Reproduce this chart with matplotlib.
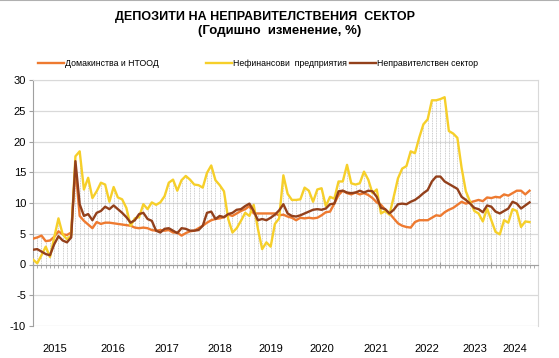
import numpy as np
import matplotlib
matplotlib.use('Agg')
import matplotlib.pyplot as plt

plt.rcParams['font.family'] = ['Liberation Sans', 'DejaVu Sans']
plt.rcParams['axes.unicode_minus'] = False

# Годишно изменение, %, месечни данни от януари 2015
households = [4.2, 4.4, 4.7, 3.8, 3.9, 4.5, 5.4, 4.9, 4.8, 5.2,
              15.8, 7.9, 7.1, 6.5, 5.9, 6.9, 6.6, 6.8, 6.8, 6.7,
              6.6, 6.5, 6.4, 6.3, 6.0, 5.9, 6.0, 5.9, 5.6, 5.5,
              5.6, 5.5, 5.6, 5.2, 5.2, 4.7, 5.1, 5.4, 5.5, 5.9,
              6.3, 6.8, 7.2, 7.4, 7.5, 7.7, 8.1, 7.9, 8.3, 8.7,
              9.0, 9.5, 8.3, 8.3, 8.3, 8.3, 8.3, 8.3, 8.0, 8.1,
              7.8, 7.6, 7.2, 7.6, 7.5, 7.6, 7.5, 7.6, 8.0, 8.5,
              8.6, 9.9, 11.3, 12.0, 11.6, 11.4, 11.7, 11.4, 11.6, 11.3,
              10.8, 10.1, 9.7, 8.9, 8.3, 7.5, 6.7, 6.3, 6.1, 6.0,
              6.9, 7.2, 7.2, 7.2, 7.6, 8.0, 7.9, 8.5, 8.9, 9.2,
              9.7, 10.2, 9.9, 10.1, 10.3, 10.5, 10.3, 10.9, 10.8, 11.0,
              10.9, 11.4, 11.2, 11.6, 12.0, 12.0, 11.4, 12.0]

nonfinancial = [0.8, 0.2, 1.5, 2.9, 1.2, 4.4, 7.5, 4.9, 4.1, 4.7,
                17.6, 18.4, 12.2, 14.1, 10.8, 11.9, 13.3, 13.0, 10.2, 12.6,
                10.9, 10.6, 9.2, 6.3, 7.5, 7.7, 9.8, 9.0, 10.1, 9.7,
                10.1, 11.1, 13.3, 13.8, 12.0, 13.7, 14.4, 13.8, 13.0, 12.9,
                12.5, 14.9, 16.1, 13.7, 12.9, 11.9, 7.4, 5.2, 5.9, 7.1,
                8.4, 7.9, 9.7, 5.8, 2.5, 3.6, 2.9, 6.6, 7.5, 14.5,
                11.5, 10.5, 10.5, 10.6, 12.5, 12.0, 10.2, 12.2, 12.4, 9.5,
                11.0, 10.7, 13.5, 13.5, 16.2, 13.2, 13.0, 13.2, 15.1, 13.8,
                11.6, 12.2, 8.3, 8.7, 8.1, 11.0, 14.0, 15.6, 16.0, 18.4,
                18.1, 20.6, 22.8, 23.6, 26.7, 26.7, 26.9, 27.2, 21.7, 21.3,
                20.6, 15.7, 11.9, 10.2, 8.7, 8.3, 7.0, 9.1, 7.2, 5.3,
                4.9, 7.2, 6.8, 9.0, 8.7, 6.1, 7.0, 6.9]

nongov = [2.4, 2.5, 2.1, 1.7, 1.5, 3.3, 4.6, 3.9, 3.6, 4.4,
          16.8, 9.8, 7.9, 8.2, 7.2, 8.4, 8.7, 9.4, 9.0, 9.6,
          9.0, 8.4, 7.7, 6.8, 7.2, 8.2, 8.4, 7.4, 7.1, 5.5,
          5.2, 5.8, 5.9, 5.5, 5.1, 5.9, 5.8, 5.5, 5.5, 5.6,
          6.3, 8.4, 8.6, 7.4, 7.9, 7.7, 8.2, 8.4, 8.9, 9.0,
          9.5, 9.9, 8.7, 7.2, 7.4, 7.2, 7.6, 8.1, 8.8, 9.8,
          8.3, 7.9, 7.8, 8.0, 8.3, 8.6, 8.9, 9.0, 8.9, 9.1,
          9.8, 9.9, 11.9, 12.0, 11.7, 11.6, 11.7, 12.0, 11.7, 12.0,
          11.9, 11.0, 9.2, 9.0, 8.3, 8.9, 9.8, 9.9, 9.8, 10.2,
          10.5, 11.0, 11.6, 12.1, 13.5, 14.3, 14.3, 13.5, 13.1, 12.7,
          12.3, 11.0, 10.5, 9.9, 9.2, 9.0, 8.5, 9.6, 9.4, 8.6,
          8.3, 8.7, 9.1, 10.2, 9.9, 9.1, 9.6, 10.1]

years = ['2015', '2016', '2017', '2018', '2019', '2020', '2021', '2022', '2023', '2024']
labels = ['Домакинства и НТООД', 'Нефинансови  предприятия', 'Неправителствен сектор']
colors = ['#ee7a30', '#f6cf2a', '#93401b']

N_MONTHS = 120
W, H = 559, 358
# къде стоят надписите на годините (в месеци от началото)
year_label_pos = [5.2, 18.8, 31.5, 44.0, 56.0, 68.0, 80.7, 92.7, 104.2, 113.6]
# начало на линийката в легендата (пиксели)
legend_x = [38, 206, 350]


def main():
    fig = plt.figure(figsize=(W / 100, H / 100), dpi=100)
    ax = fig.add_axes([33 / W, 1 - 326 / H, (538 - 33) / W, (326 - 80) / H])

    x = np.arange(len(households))
    top = np.maximum.reduce([households, nonfinancial, nongov])

    # вертикални линии от нулата до най-високата серия
    ax.vlines(x, 0, top, colors='#bcbcbc', linestyles=(0, (1, 1)), linewidth=0.6, zorder=1)

    for v in range(-10, 31, 5):
        ax.axhline(v, color='#d9d9d9', linewidth=0.9, zorder=0)

    for series, c, z in zip([households, nonfinancial, nongov], colors, [3, 3, 4]):
        ax.plot(x, series, color=c, linewidth=1.7, zorder=z)

    ax.set_xlim(0, N_MONTHS - 1)
    ax.set_ylim(-10, 30)
    ax.set_yticks(range(-10, 31, 5))

    ax.spines['bottom'].set_position(('data', 0))
    ax.spines['bottom'].set_color('#a0a0a0')
    ax.spines['left'].set_color('#a0a0a0')
    ax.spines['top'].set_color('#d9d9d9')
    ax.spines['right'].set_color('#d9d9d9')

    ax.set_xticks(range(0, N_MONTHS, 12))
    ax.set_xticks(range(0, N_MONTHS), minor=True)
    ax.tick_params(axis='x', which='major', direction='inout', length=5, color='#a0a0a0', labelbottom=False)
    ax.tick_params(axis='x', which='minor', direction='out', length=2.5, color='#a0a0a0', width=0.6)
    ax.tick_params(axis='y', direction='out', length=3, color='#a0a0a0', labelsize=8, pad=2)

    trans = ax.get_xaxis_transform()
    for pos, yr in zip(year_label_pos, years):
        ax.text(pos, -0.095, yr, transform=trans, ha='center', va='center', fontsize=8)

    fig.text(265 / W, 1 - 17 / H, 'ДЕПОЗИТИ НА НЕПРАВИТЕЛСТВЕНИЯ  СЕКТОР',
             ha='center', va='center', fontsize=9, fontweight='bold')
    fig.text(0.5, 1 - 31 / H, '(Годишно  изменение, %)',
             ha='center', va='center', fontsize=9.5, fontweight='bold')

    # легенда, ръчно
    ly = 1 - 63 / H
    for lx, lab, c in zip(legend_x, labels, colors):
        fig.add_artist(plt.Line2D([lx / W, (lx + 26) / W], [ly, ly], color=c, linewidth=1.7))
        fig.text((lx + 27) / W, ly, lab, ha='left', va='center', fontsize=6.3)

    fig.add_artist(plt.Line2D([0, 1], [0.999, 0.999], color='#b0b0b0', linewidth=1.5))

    fig.savefig('out.png', dpi=100)


if __name__ == '__main__':
    main()
